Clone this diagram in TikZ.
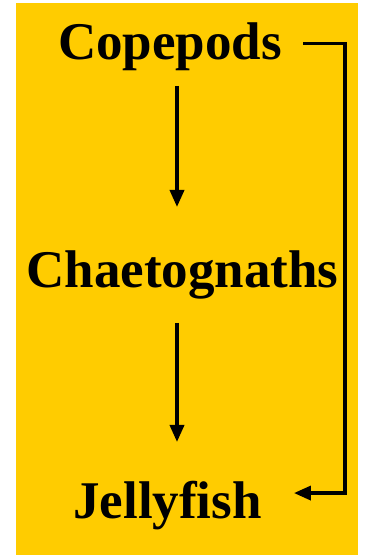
\documentclass[tikz,border=0pt]{standalone}
\usepackage{fontspec}
\setmainfont{Liberation Serif}
\usetikzlibrary{arrows.meta,calc}
\definecolor{panelyellow}{RGB}{255,204,0}

\tikzset{
  taxon/.style={inner sep=0pt, anchor=base, font=\fontsize{53}{60}\selectfont\bfseries},
  flow/.style={line width=3.5pt, -{Triangle[length=17pt,width=14pt]}}
}

\begin{document}
\begin{tikzpicture}[x=1pt,y=1pt]
\useasboundingbox (0,0) rectangle (366,555);
% background panel:
\fill[panelyellow] (16,0) rectangle (358,551.5);
% food chain:
\node[taxon] (cope) at (170,495) {Copepods};
\node[taxon] (chaet) at (182.5,267) {Chaetognaths};
\node[taxon] (jelly) at (167.5,37) {Jellyfish};
\draw[flow] ($(cope.base)+(7,-26)$) -- ($(chaet.base)+(-5.5,81)$);
\draw[flow] ($(chaet.base)+(-5.5,-35)$) -- ($(jelly.base)+(9.5,76)$);
% copepods eaten directly:
\draw[flow] ([xshift=21pt,yshift=4pt]cope.east) -- ++(42,0) |- ([xshift=32pt,yshift=12pt]jelly.east);
\end{tikzpicture}
\end{document}
